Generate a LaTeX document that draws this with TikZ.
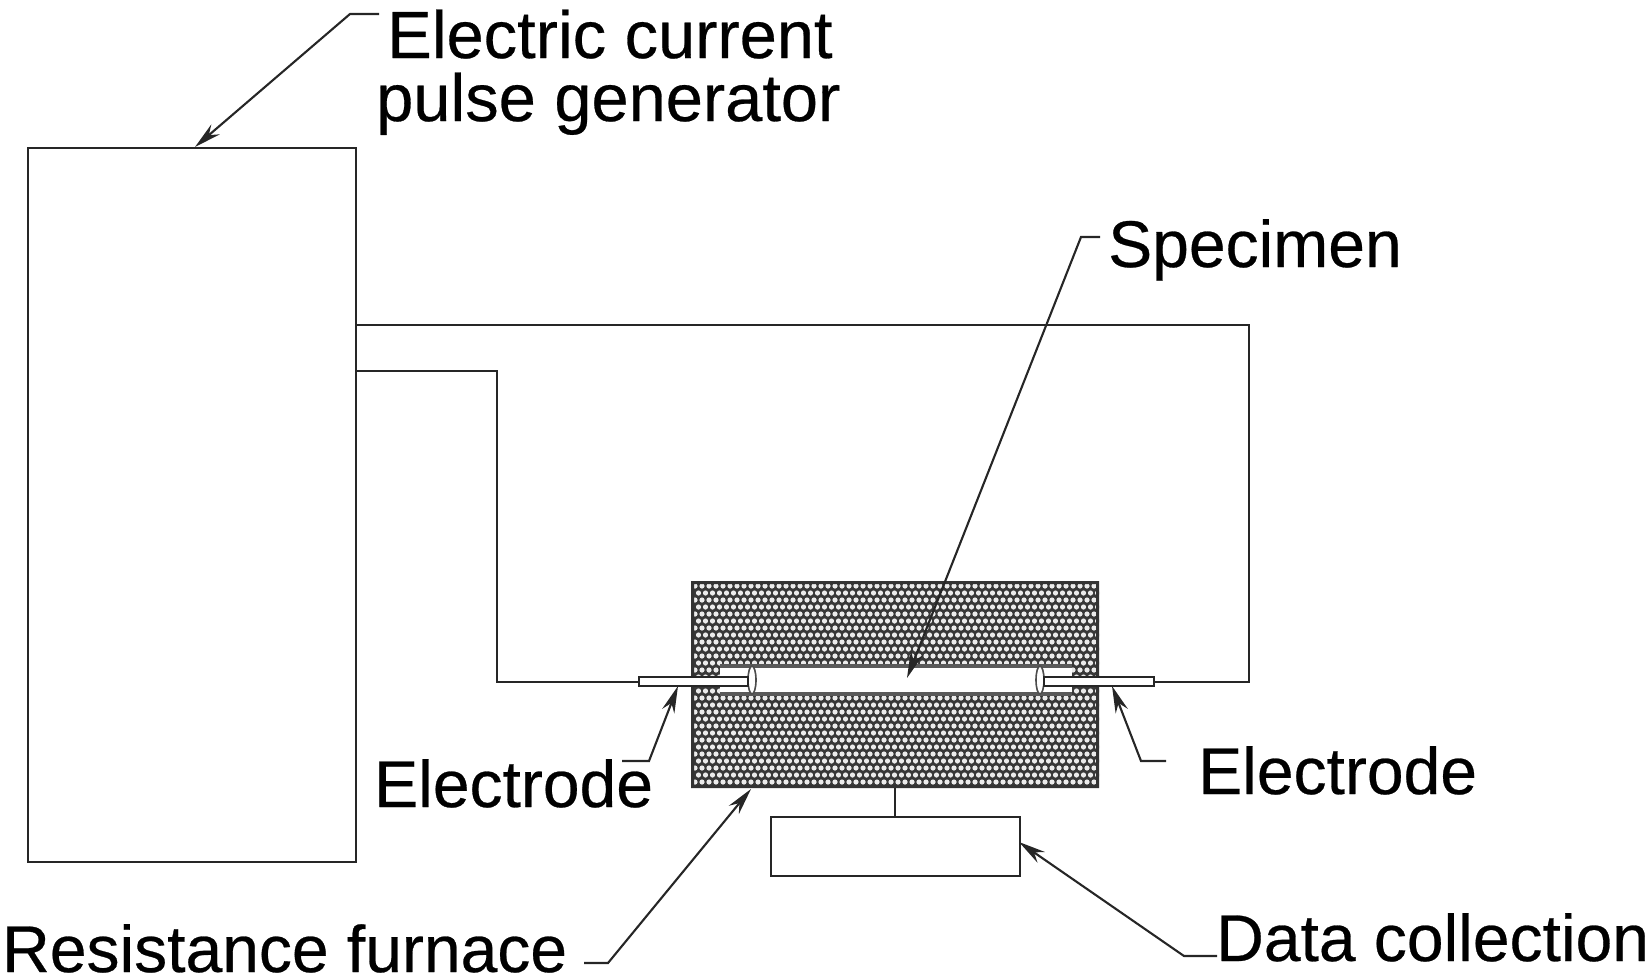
\documentclass[tikz,border=0pt]{standalone}
\usepackage{fontspec}
\setmainfont[FakeBold=0.4]{Liberation Sans}
\usetikzlibrary{arrows.meta}
\tikzset{
  line/.style={draw=black!85,line width=2.4pt},
  boxn/.style={line,fill=white,rectangle,inner sep=0pt,anchor=north west},
  lead/.style={draw=black!85,line width=2.1pt,-{Stealth[length=27pt,width=13pt]}},
  lbl/.style={font=\fontsize{66}{70}\selectfont,anchor=base west,inner sep=0pt,text=black},
  lblw/.style={lbl,font=\fontsize{66.8}{70}\selectfont},
  cavline/.style={draw=black!65,line width=3.5pt},
  elec/.style={line,fill=white,rectangle,inner sep=0pt,anchor=north west,minimum width=109pt,minimum height=9pt},
}
\begin{document}
\begin{tikzpicture}[x=1pt,y=-1pt]
\useasboundingbox (0,0) rectangle (1650,978);
% generator
\node[boxn,minimum width=328pt,minimum height=714pt] (gen) at (27,147) {};
% furnace
\node[rectangle,inner sep=0pt,anchor=north west,fill=black!78,minimum width=408pt,minimum height=207pt] (furn) at (691,581) {};
\fill[white!92!black]
  \foreach \r in {0,...,28}{
    \foreach \c in {0,...,57}{
      ({695+\c*7+mod(\r,2)*3.5},{586+\r*7}) circle (2.6)
    }
  };
\fill[black!80] (1096,581) rectangle (1099,788) (691,785) rectangle (1099,788) (691,581) rectangle (1099,584) (691,581) rectangle (694,788);
% cavity
\fill[white] (720,666) rectangle (1072,694);
\draw[cavline] (720,666) -- (1072,666) (720,694) -- (1072,694);
% specimen ends
\draw[draw=black!70,line width=1.6pt,fill=white] (752,680) ellipse (4 and 14);
\draw[draw=black!70,line width=1.6pt,fill=white] (1040,680) ellipse (4 and 14);
% electrodes
\node[elec] (el) at (638,676) {};
\node[elec,minimum width=110pt] (er) at (1043,676) {};
% data box
\node[boxn,minimum width=249pt,minimum height=59pt] (data) at (770,816) {};
% wires
\coordinate (gu) at (355,325);
\coordinate (gl) at (355,371);
\coordinate (wr) at (1249,325);
\coordinate (wl) at (497,371);
\draw[line] (gu) -- (wr) -- (wr |- er.east) -- (er.east);
\draw[line] (gl) -- (wl) -- (wl |- el.west) -- (el.west);
\coordinate (st) at (895,788);
\draw[line] (st) -- (895,816);
% labels
\node[lblw] (t1) at (387,58) {Electric current};
\node[lblw] (t2) at (376,121) {pulse generator};
\node[lbl] (t3) at (1108,267) {Specimen};
\node[lbl] (t4) at (374,807) {Electrode};
\node[lbl] (t5) at (1198,794) {Electrode};
\node[lbl] (t6) at (2,972) {Resistance furnace};
\node[lbl] (t7) at (1216,961) {Data collection};
% leaders
\coordinate (a1) at (379,14); \coordinate (b1) at (350,14); \coordinate (c1) at (195,147);
\draw[lead] (a1) -- (b1) -- (c1);
\coordinate (a2) at (1100,237); \coordinate (b2) at (1081,237); \coordinate (c2) at (907,678);
\draw[lead] (a2) -- (b2) -- (c2);
\coordinate (a3) at (622,761); \coordinate (b3) at (649,761); \coordinate (c3) at (678,686);
\draw[lead] (a3) -- (b3) -- (c3);
\coordinate (a4) at (1166,761); \coordinate (b4) at (1141,761); \coordinate (c4) at (1112,686);
\draw[lead] (a4) -- (b4) -- (c4);
\coordinate (a5) at (584,963); \coordinate (b5) at (608,963); \coordinate (c5) at (751,789);
\draw[lead] (a5) -- (b5) -- (c5);
\coordinate (a6) at (1217,956); \coordinate (b6) at (1184,956); \coordinate (c6) at (1019,842);
\draw[lead] (a6) -- (b6) -- (c6);
\end{tikzpicture}
\end{document}
